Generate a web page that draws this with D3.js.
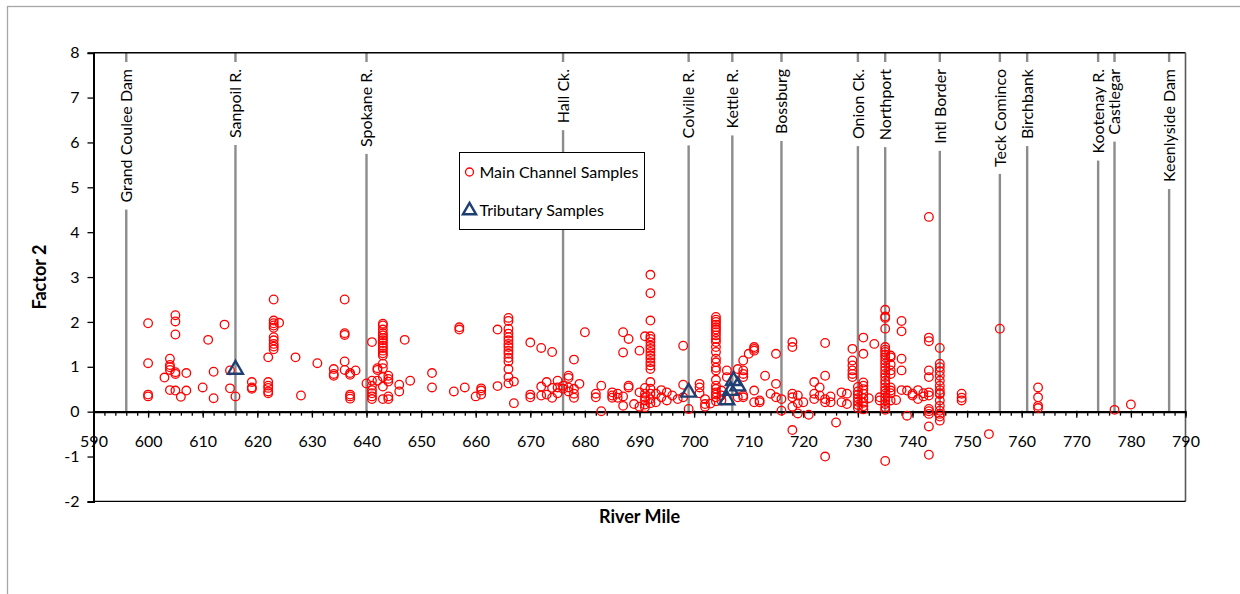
<!DOCTYPE html>
<html>
<head>
<meta charset="utf-8">
<script src="https://cdn.jsdelivr.net/npm/d3@7"></script>
<style>
  body { margin: 0; background: #fff; }
  text { font-family: Lato, "Open Sans", sans-serif; fill: #000; }
</style>
</head>
<body>
<svg id="chart" width="1240" height="594"></svg>
<script>
// Axis ticks
const riverMileTicks = d3.range(590, 791, 10);
const riverMileMinorTicks = d3.range(590, 791, 2);
const factorTicks = d3.range(-2, 9, 1);

// Landmarks along the river (river mile)
const landmarkNames = ["Grand Coulee Dam", "Sanpoil R.", "Spokane R.", "Hall Ck.", "Colville R.",
  "Kettle R.", "Bossburg", "Onion Ck.", "Northport", "Intl Border", "Teck Cominco",
  "Birchbank", "Kootenay R.", "Castlegar", "Keenlyside Dam"];
const landmarkMiles = [596, 616, 640, 676, 699, 707, 716, 730, 735, 745, 756, 761, 774, 777, 787];

// Main channel samples: [river mile, factor 2 score]
const mainChannelSamples = [
  [600,1.97],[600,1.08],[600,0.38],[600,0.34],
  [603,0.76],
  [604,1.18],[604,1.04],[604,0.99],[604,0.93],[604,0.48],
  [605,2.15],[605,2.01],[605,1.72],[605,0.88],[605,0.84],[605,0.47],
  [606,0.33],[607,0.86],[607,0.47],
  [610,0.54],[611,1.60],[612,0.89],[612,0.30],[614,1.94],[615,0.92],[615,0.52],[616,0.34],
  [619,0.66],[619,0.54],[619,0.51],
  [622,1.21],[622,0.66],[622,0.58],[622,0.53],[622,0.45],[622,0.41],
  [623,2.50],[623,2.03],[623,1.97],[623,1.92],[623,1.87],[623,1.66],[623,1.59],[623,1.51],[623,1.45],[623,1.39],
  [624,1.98],[627,1.21],[628,0.36],[631,1.08],
  [634,0.95],[634,0.84],[634,0.80],
  [636,2.50],[636,1.75],[636,1.71],[636,1.12],[636,0.93],
  [637,0.86],[637,0.82],[637,0.38],[637,0.34],[637,0.29],
  [638,0.92],[640,0.63],
  [641,1.55],[641,0.69],[641,0.58],[641,0.48],[641,0.41],[641,0.34],[641,0.28],
  [642,0.97],[642,0.93],[642,0.69],
  [643,1.96],[643,1.92],[643,1.83],[643,1.75],[643,1.70],[643,1.64],[643,1.59],[643,1.53],[643,1.47],
  [643,1.42],[643,1.36],[643,1.30],[643,1.25],[643,1.07],[643,0.97],[643,0.77],[643,0.56],[643,0.28],
  [644,0.80],[644,0.73],[644,0.67],[644,0.34],[644,0.28],
  [646,0.60],[646,0.45],[647,1.60],[648,0.69],
  [652,0.86],[652,0.54],[656,0.45],[657,1.88],[657,1.83],[658,0.54],[660,0.34],
  [661,0.52],[661,0.47],[661,0.38],[664,1.83],[664,0.57],
  [666,2.09],[666,2.02],[666,1.85],[666,1.74],[666,1.66],[666,1.59],[666,1.51],[666,1.44],
  [666,1.36],[666,1.29],[666,1.20],[666,1.12],[666,0.95],[666,0.77],[666,0.63],
  [667,0.67],[667,0.19],
  [670,1.54],[670,0.38],[670,0.32],[672,1.42],[672,0.56],[672,0.36],
  [673,0.66],[673,0.38],[674,1.33],[674,0.53],[674,0.31],
  [675,0.69],[675,0.54],[675,0.41],[676,0.51],[676,0.58],
  [677,0.80],[677,0.75],[677,0.54],[677,0.45],
  [678,1.16],[678,0.51],[678,0.40],[678,0.31],[679,0.62],[680,1.77],
  [682,0.40],[682,0.32],[683,0.58],[683,0.01],
  [685,0.43],[685,0.36],[685,0.31],[686,0.40],[686,0.31],
  [687,1.77],[687,1.32],[687,0.34],[687,0.13],
  [688,1.62],[688,0.58],[688,0.54],[689,0.17],
  [690,1.36],[690,0.43],[690,0.11],
  [691,1.68],[691,0.53],[691,0.40],[691,0.32],[691,0.25],[691,0.16],[691,0.10],
  [692,3.05],[692,2.64],[692,2.03],[692,1.68],[692,1.62],[692,1.55],[692,1.47],[692,1.40],[692,1.33],
  [692,1.25],[692,1.18],[692,1.10],[692,1.03],[692,0.95],[692,0.66],[692,0.51],[692,0.40],[692,0.28],[692,0.19],
  [693,0.40],[693,0.21],[694,0.48],[694,0.32],[695,0.43],[695,0.25],[696,0.36],[697,0.28],
  [698,1.47],[698,0.60],[698,0.32],[699,0.06],
  [701,0.62],[701,0.54],[701,0.41],[702,0.28],[702,0.17],[702,0.11],[703,0.18],
  [704,2.11],[704,2.05],[704,2.00],[704,1.94],[704,1.88],[704,1.83],[704,1.77],[704,1.70],
  [704,1.62],[704,1.55],[704,1.44],[704,1.33],[704,1.18],[704,1.10],[704,0.98],[704,0.92],
  [704,0.71],[704,0.58],[704,0.51],[704,0.43],[704,0.38],[704,0.32],[704,0.23],
  [705,0.47],[705,0.36],[705,0.25],[706,0.92],[706,0.77],
  [708,0.95],[708,0.32],
  [709,1.14],[709,0.92],[709,0.84],[709,0.77],[709,0.36],[709,0.32],
  [710,1.29],[711,1.44],[711,1.40],[711,1.36],[711,0.47],[711,0.21],
  [712,0.21],[712,0.25],[713,0.80],[714,0.40],
  [715,1.29],[715,0.62],[715,0.32],[716,0.28],[716,0.02],
  [718,1.55],[718,1.44],[718,0.40],[718,0.32],[718,0.11],[718,-0.41],
  [719,0.36],[719,0.19],[719,-0.04],[720,0.21],[721,-0.07],
  [722,0.66],[722,0.40],[722,0.28],[723,0.54],[723,0.36],
  [724,1.53],[724,0.80],[724,0.28],[724,0.21],[724,-1.00],
  [725,0.34],[725,0.21],[726,-0.24],[727,0.43],[727,0.21],[728,0.40],[728,0.17],
  [729,1.40],[729,1.14],[729,1.03],[729,0.92],[729,0.84],[729,0.77],
  [730,0.55],[730,0.45],[730,0.38],[730,0.30],[730,0.22],[730,0.15],[730,0.08],
  [731,1.65],[731,1.29],[731,0.65],[731,0.58],[731,0.50],[731,0.40],[731,0.30],[731,0.20],[731,0.12],[731,0.05],
  [732,0.30],[733,1.51],[734,0.32],[734,0.25],
  [735,2.27],[735,2.12],[735,2.09],[735,1.85],[735,1.44],[735,1.38],[735,1.33],[735,1.27],[735,1.21],
  [735,1.14],[735,1.07],[735,0.99],[735,0.92],[735,0.84],[735,0.77],[735,0.69],[735,0.62],[735,0.54],
  [735,0.47],[735,0.40],[735,0.32],[735,0.25],[735,0.17],[735,0.10],[735,0.04],[735,-1.10],
  [736,1.25],[736,1.21],[736,1.05],[736,0.92],[736,0.84],[736,0.54],[736,0.47],[736,0.41],[736,0.25],
  [737,0.26],[738,2.02],[738,1.79],[738,1.18],[738,0.92],[738,0.48],
  [739,0.47],[739,-0.09],[740,0.40],[740,0.36],[741,0.48],[741,0.28],[742,0.34],[742,0.41],
  [743,4.34],[743,1.65],[743,1.57],[743,0.92],[743,0.77],[743,0.43],[743,0.36],[743,0.06],
  [743,0.01],[743,-0.05],[743,-0.33],[743,-0.96],
  [745,1.42],[745,1.07],[745,0.99],[745,0.90],[745,0.80],[745,0.69],[745,0.58],[745,0.48],
  [745,0.41],[745,0.39],[745,0.25],[745,0.13],[745,0.02],[745,-0.05],[745,-0.11],[745,-0.20],
  [749,0.40],[749,0.31],[749,0.25],[754,-0.50],[756,1.85],
  [763,0.54],[763,0.32],[763,0.13],[763,0.08],[777,0.04],[780,0.16]
];

// Tributary samples: [river mile, factor 2 score]
const tributarySamples = [[616,0.94],[699,0.43],[706,0.26],[706.7,0.47],[707.2,0.69],[708,0.57]];

const legendLabels = ["Main Channel Samples", "Tributary Samples"];

const svg = d3.select("#chart");
const plot = { left: 93.5, right: 1185.5, top: 52.7, bottom: 501.4 };

const x = d3.scaleLinear().domain([590, 790]).range([plot.left, plot.right]);
const y = d3.scaleLinear().domain([-2, 8]).range([plot.bottom, plot.top]);

// Outer chart frame
svg.append("rect")
  .attr("x", 7.5).attr("y", 6.5).attr("width", 1260).attr("height", 620)
  .attr("fill", "#fff").attr("stroke", "#a6a6a6").attr("stroke-width", 1.3);

// Landmark reference lines with boxed labels
const lm = svg.append("g").attr("class", "landmarks");
landmarkMiles.forEach((m, i) => {
  const lx = x(m);
  lm.append("line")
    .attr("x1", lx).attr("x2", lx).attr("y1", plot.top).attr("y2", y(0))
    .attr("stroke", "#8c8c8c").attr("stroke-width", 2.4);
  const g = lm.append("g").attr("transform", `translate(${lx},69) rotate(-90)`);
  const bg = g.append("rect").attr("fill", "#fff");
  const t = g.append("text")
    .attr("text-anchor", "end").attr("dy", "0.36em")
    .attr("font-size", 16).text(landmarkNames[i]);
  const len = t.node().getComputedTextLength();
  bg.attr("x", -len - 7).attr("y", -8).attr("width", len + 14).attr("height", 16);
});

// Plot border (top, right, bottom)
svg.append("path")
  .attr("d", `M${plot.left},${plot.top}H${plot.right}`)
  .attr("fill", "none").attr("stroke", "#000").attr("stroke-width", 1.4);
svg.append("path")
  .attr("d", `M${plot.right},${plot.top}V${plot.bottom}`)
  .attr("fill", "none").attr("stroke", "#595959").attr("stroke-width", 1.6);
svg.append("path")
  .attr("d", `M${plot.left},${plot.bottom}H${plot.right}`)
  .attr("fill", "none").attr("stroke", "#000").attr("stroke-width", 1.4);

const plainNumber = d => String(d);

// Y axis
const yAxis = d3.axisLeft(y).tickValues(factorTicks).tickSize(6).tickPadding(8).tickFormat(plainNumber);
svg.append("g").attr("transform", `translate(${plot.left},0)`).call(yAxis)
  .call(g => g.select(".domain").attr("stroke", "#000").attr("stroke-width", 2))
  .call(g => g.selectAll(".tick line").attr("stroke", "#000").attr("stroke-width", 1.3))
  .call(g => g.selectAll(".tick text").attr("font-size", 16).attr("font-family", "Lato, sans-serif").attr("fill", "#000"));

// X axis at zero: minor ticks then major ticks with labels
svg.append("g").attr("transform", `translate(0,${y(0)})`)
  .call(d3.axisBottom(x).tickValues(riverMileMinorTicks).tickSize(4).tickFormat(""))
  .call(g => g.select(".domain").remove())
  .call(g => g.selectAll(".tick line").attr("stroke", "#000").attr("stroke-width", 1.3));
svg.append("g").attr("transform", `translate(0,${y(0)})`)
  .call(d3.axisBottom(x).tickValues(riverMileTicks).tickSize(6).tickSizeOuter(0).tickPadding(18).tickFormat(plainNumber))
  .call(g => g.select(".domain").attr("stroke", "#000").attr("stroke-width", 2.2))
  .call(g => g.selectAll(".tick line").attr("stroke", "#000").attr("stroke-width", 1.3).attr("y1", -1))
  .call(g => g.selectAll(".tick text").attr("font-size", 16).attr("font-family", "Lato, sans-serif").attr("fill", "#000"));

// Axis titles
svg.append("text")
  .attr("transform", `translate(46,${(plot.top + plot.bottom) / 2}) rotate(-90)`)
  .attr("text-anchor", "middle").attr("font-size", 18).attr("font-weight", "bold")
  .text("Factor 2");
svg.append("text")
  .attr("x", (plot.left + plot.right) / 2).attr("y", 523)
  .attr("text-anchor", "middle").attr("font-size", 18).attr("font-weight", "bold")
  .text("River Mile");

// Main channel samples
svg.append("g").selectAll("circle").data(mainChannelSamples).join("circle")
  .attr("cx", d => x(d[0])).attr("cy", d => y(d[1])).attr("r", 4.3)
  .attr("fill", "none").attr("stroke", "#ff0000").attr("stroke-width", 1.3);

// Tributary samples
const tri = d3.symbol(d3.symbolTriangle, 95);
svg.append("g").selectAll("path").data(tributarySamples).join("path")
  .attr("transform", d => `translate(${x(d[0])},${y(d[1])})`)
  .attr("d", tri).attr("fill", "none").attr("stroke", "#1f3f73").attr("stroke-width", 2.4);

// Legend
const legend = svg.append("g").attr("transform", "translate(459.5,152.5)");
legend.append("rect").attr("width", 185).attr("height", 77)
  .attr("fill", "#fff").attr("stroke", "#000").attr("stroke-width", 1);
legend.append("circle").attr("cx", 10).attr("cy", 19.5).attr("r", 4)
  .attr("fill", "none").attr("stroke", "#ff0000").attr("stroke-width", 1.3);
legend.append("path").attr("transform", "translate(10,58)")
  .attr("d", d3.symbol(d3.symbolTriangle, 75)).attr("fill", "none")
  .attr("stroke", "#1f3f73").attr("stroke-width", 2.4);
legend.selectAll("text.lbl").data(legendLabels).join("text").attr("class", "lbl")
  .attr("x", 20).attr("y", (d, i) => 25 + i * 38)
  .attr("font-size", 16).text(d => d);
</script>
</body>
</html>
